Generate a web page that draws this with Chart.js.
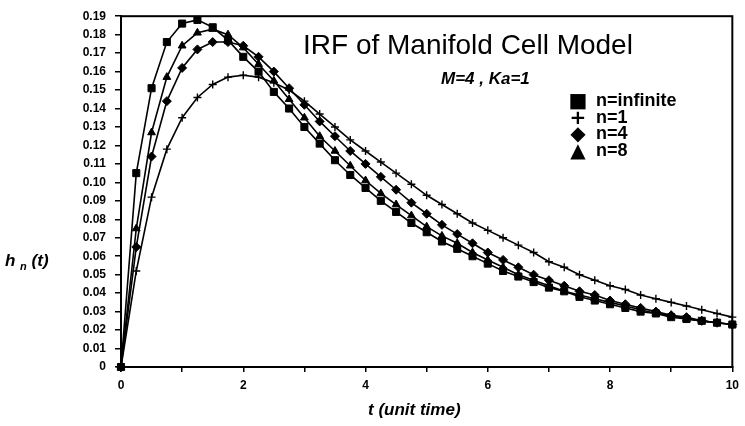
<!DOCTYPE html>
<html>
<head>
<meta charset="utf-8">
<script src="https://cdn.jsdelivr.net/npm/chart.js@4.4.0/dist/chart.umd.min.js"></script>
<style>
  body { margin: 0; background: #fff; }
  #wrap { position: relative; width: 745px; height: 426px; font-family: "Liberation Sans", Arial, sans-serif; color: #000; }
  .txt { position: absolute; white-space: nowrap; }
  #title { left: 303px; top: 31px; font-size: 28px; line-height: 28px; }
  #sub { left: 441px; top: 69px; font-size: 17px; font-style: italic; font-weight: bold; }
  #legend { left: 560px; top: 92px; font-size: 18px; font-weight: bold; line-height: 16.5px; }
  #legend .sym { display: inline-block; width: 36px; text-align: center; font-family: "DejaVu Sans"; font-size: 20px; vertical-align: -1px; }
  #ylab { left: 5px; top: 251px; font-size: 17px; font-style: italic; font-weight: bold; }
  #ylab sub { font-size: 11px; }
  #xlab { left: 368px; top: 400px; font-size: 17px; font-style: italic; font-weight: bold; }
</style>
</head>
<body>
<div id="wrap">
  <canvas id="irf" width="745" height="426"></canvas>
  <div class="txt" id="title">IRF of Manifold Cell Model</div>
  <div class="txt" id="sub">M=4 , Ka=1</div>
  <div class="txt" id="legend"></div>
  <div class="txt" id="ylab">h <sub>n</sub> (t)</div>
  <div class="txt" id="xlab">t (unit time)</div>
</div>
<script>
// t values (unit time)
var tValues = [0, 0.25, 0.5, 0.75, 1, 1.25, 1.5, 1.75, 2, 2.25, 2.5, 2.75, 3, 3.25, 3.5, 3.75, 4, 4.25, 4.5, 4.75,
  5, 5.25, 5.5, 5.75, 6, 6.25, 6.5, 6.75, 7, 7.25, 7.5, 7.75, 8, 8.25, 8.5, 8.75, 9, 9.25, 9.5, 9.75, 10];

// h_n(t)
var nInfinite = [0, 0.105, 0.151, 0.176, 0.186, 0.188, 0.184, 0.177, 0.168, 0.160, 0.149, 0.140, 0.130, 0.121, 0.112, 0.104, 0.097, 0.090, 0.084, 0.078,
  0.073, 0.068, 0.064, 0.060, 0.056, 0.052, 0.049, 0.046, 0.043, 0.041, 0.038, 0.036, 0.034, 0.032, 0.030, 0.029, 0.027, 0.026, 0.025, 0.024, 0.023];
var n1 = [0, 0.052, 0.092, 0.118, 0.135, 0.146, 0.153, 0.157, 0.158, 0.157, 0.154, 0.150, 0.144, 0.137, 0.130, 0.123, 0.117, 0.111, 0.105, 0.099,
  0.093, 0.088, 0.083, 0.078, 0.074, 0.070, 0.066, 0.062, 0.057, 0.054, 0.050, 0.047, 0.044, 0.042, 0.039, 0.037, 0.035, 0.033, 0.031, 0.029, 0.027];
var n4 = [0, 0.065, 0.114, 0.144, 0.162, 0.172, 0.176, 0.176, 0.174, 0.168, 0.160, 0.151, 0.142, 0.133, 0.125, 0.117, 0.110, 0.103, 0.096, 0.089,
  0.083, 0.077, 0.072, 0.067, 0.062, 0.058, 0.054, 0.050, 0.047, 0.044, 0.041, 0.039, 0.036, 0.034, 0.032, 0.030, 0.028, 0.027, 0.025, 0.024, 0.023];
var n8 = [0, 0.075, 0.127, 0.157, 0.174, 0.181, 0.183, 0.180, 0.173, 0.164, 0.155, 0.145, 0.135, 0.125, 0.117, 0.109, 0.101, 0.094, 0.088, 0.082,
  0.076, 0.071, 0.067, 0.062, 0.058, 0.054, 0.050, 0.047, 0.044, 0.041, 0.039, 0.037, 0.035, 0.033, 0.031, 0.029, 0.028, 0.026, 0.025, 0.024, 0.023];

var seriesNames = ["n=infinite", "n=1", "n=4", "n=8"];
var seriesData = [nInfinite, n1, n4, n8];
var markers = ["rect", "cross", "rectRot", "triangle"];
var markerSize = [5, 4, 4.5, 4.5];
var legendSymbols = ["\u25A0", "+", "\u25C6", "\u25B2"];

function toPoints(ys) {
  return ys.map(function(y, i){ return { x: tValues[i], y: y }; });
}

var datasets = seriesNames.map(function(name, i){
  return {
    label: name,
    data: toPoints(seriesData[i]),
    borderColor: "#000",
    backgroundColor: "#000",
    borderWidth: 1.6,
    pointStyle: markers[i],
    pointRadius: markerSize[i],
    pointBorderWidth: i === 1 ? 1.4 : 1,
    pointBorderColor: "#000",
    pointBackgroundColor: "#000",
    tension: 0,
    clip: false
  };
});

// legend as html text
var lg = document.getElementById("legend");
lg.innerHTML = seriesNames.map(function(n, i){
  return '<div><span class="sym">' + legendSymbols[i] + '</span>' + n + '</div>';
}).join("");

var framePlugin = {
  id: "frame",
  afterDatasetsDraw: function(chart){
    var a = chart.chartArea, c = chart.ctx;
    c.save();
    c.strokeStyle = "#000";
    c.lineWidth = 2;
    c.strokeRect(a.left, a.top, a.right - a.left, a.bottom - a.top);
    c.restore();
  }
};

var tickFont = { family: "'Liberation Sans', Arial, sans-serif", size: 12, weight: "bold" };

new Chart(document.getElementById("irf"), {
  type: "line",
  data: { datasets: datasets },
  options: {
    responsive: false,
    animation: false,
    layout: { padding: { top: 14, right: 6, left: 0, bottom: 0 } },
    plugins: { legend: { display: false }, tooltip: { enabled: false } },
    scales: {
      x: {
        type: "linear",
        min: 0, max: 10,
        afterFit: function(s){ s.height = 59; },
        grid: { drawOnChartArea: false, drawTicks: true, tickLength: 5, tickColor: "#000", lineWidth: 1.5 },
        border: { color: "#000", width: 2 },
        ticks: {
          stepSize: 1, color: "#000", font: tickFont, padding: 6, maxRotation: 0,
          callback: function(v){ return v % 2 === 0 ? String(v) : ""; }
        }
      },
      y: {
        min: 0, max: 0.19,
        afterFit: function(s){ s.width = 121; },
        grid: { drawOnChartArea: false, drawTicks: true, tickLength: 6, tickColor: "#000", lineWidth: 1.5 },
        border: { color: "#000", width: 2 },
        ticks: {
          stepSize: 0.01, color: "#000", font: tickFont, padding: 9,
          callback: function(v){ return v === 0 ? "0" : v.toFixed(2); }
        }
      }
    }
  },
  plugins: [framePlugin]
});
</script>
</body>
</html>
